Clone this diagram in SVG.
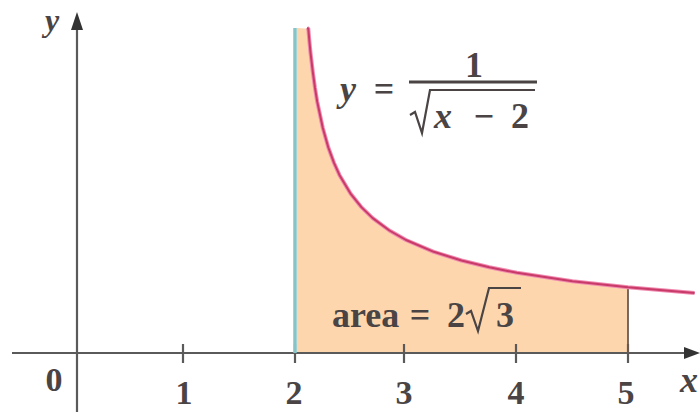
<svg xmlns="http://www.w3.org/2000/svg" width="700" height="412" viewBox="0 0 700 412">
<style>
.t{font-family:"Liberation Serif","Times New Roman",serif;fill:#4a4444;font-weight:bold;font-size:36px}
.d{font-size:34px;text-anchor:middle}
.m{text-anchor:middle}
.i{font-style:italic}
.ax{stroke:#5a5a5a;stroke-width:2.2;fill:none}
.tk{stroke:#5a5a5a;stroke-width:2.2}
.rad{fill:none;stroke:#4a4444;stroke-width:2.2;stroke-linejoin:miter}
</style>
<rect width="700" height="412" fill="#ffffff"/>
<g id="region">
<path d="M297,353 L297,28 L308.3,28.7 L309.4,41.4 L310.5,52.7 L312.8,72 L315,88 L317.2,101.6 L322.8,128 L328.3,147.5 L333.9,162.7 L339.4,174.9 L350.5,193.6 L361.6,207.4 L372.7,218.1 L389.4,230.5 L406,240 L433.8,251.8 L461.5,260.5 L489.3,267.3 L517,272.8 L572.5,281.2 L628,287.3 L628,353 Z" fill="#fdd6ad"/>
</g>
<g id="axes">
<line class="ax" x1="12" y1="353" x2="688" y2="353"/>
<polygon points="700,353 684,347 684,359" fill="#333"/>
<line class="ax" x1="77" y1="412" x2="77" y2="26"/>
<polygon points="77,12 71,30 83,30" fill="#333"/>
<line class="tk" x1="183" y1="344" x2="183" y2="363"/>
<line class="tk" x1="404" y1="344" x2="404" y2="363"/>
<line class="tk" x1="516" y1="344" x2="516" y2="363"/>
<line class="tk" x1="628" y1="344" x2="628" y2="363"/>
<line class="tk" x1="295" y1="344" x2="295" y2="363"/>
</g>
<g id="lines">
<line x1="295" y1="28" x2="295" y2="353" stroke="#86c4c8" stroke-width="3.5"/>
<line x1="628" y1="287" x2="628" y2="353" stroke="#6b5a50" stroke-width="1.8"/>
<path d="M307,28 L308.3,28.7 L309.4,41.4 L310.5,52.7 L312.8,72 L315,88 L317.2,101.6 L322.8,128 L328.3,147.5 L333.9,162.7 L339.4,174.9 L350.5,193.6 L361.6,207.4 L372.7,218.1 L389.4,230.5 L406,240 L433.8,251.8 L461.5,260.5 L489.3,267.3 L517,272.8 L572.5,281.2 L628,287.3 L694.6,293" fill="none" stroke="#f08ab0" stroke-width="4" stroke-linejoin="round"/>
<path d="M307,28 L308.3,28.7 L309.4,41.4 L310.5,52.7 L312.8,72 L315,88 L317.2,101.6 L322.8,128 L328.3,147.5 L333.9,162.7 L339.4,174.9 L350.5,193.6 L361.6,207.4 L372.7,218.1 L389.4,230.5 L406,240 L433.8,251.8 L461.5,260.5 L489.3,267.3 L517,272.8 L572.5,281.2 L628,287.3 L694.6,293" fill="none" stroke="#c83a68" stroke-width="2" stroke-linejoin="round"/>
</g>
<g id="labels">
<text class="t i" x="45" y="31" style="font-size:32px">y</text>
<text class="t d" x="54" y="391">0</text>
<text class="t d" x="184" y="404">1</text>
<text class="t d" x="294" y="404">2</text>
<text class="t d" x="404" y="404">3</text>
<text class="t d" x="516" y="404">4</text>
<text class="t d" x="626" y="404">5</text>
<text class="t i" x="680" y="392">x</text>
</g>
<g id="equation">
<text class="t i" x="340" y="101">y</text>
<text class="t m" x="384" y="101">=</text>
<text class="t m" x="474" y="77">1</text>
<line x1="409" y1="82" x2="537" y2="82" stroke="#4a4444" stroke-width="2.8"/>
<path class="rad" d="M410,115 L415,112 L422,133 L430,90 L535,90"/>
<text class="t i" x="434" y="128">x</text>
<text class="t m" x="484" y="128">−</text>
<text class="t m" x="520" y="128">2</text>
</g>
<g id="area">
<text class="t" x="332" y="327">area</text>
<text class="t m" x="420" y="327">=</text>
<text class="t m" x="456" y="327">2</text>
<path class="rad" d="M466,314 L471,311 L478,331 L489,288 L521,288"/>
<text class="t m" x="505" y="327">3</text>
</g>
</svg>
